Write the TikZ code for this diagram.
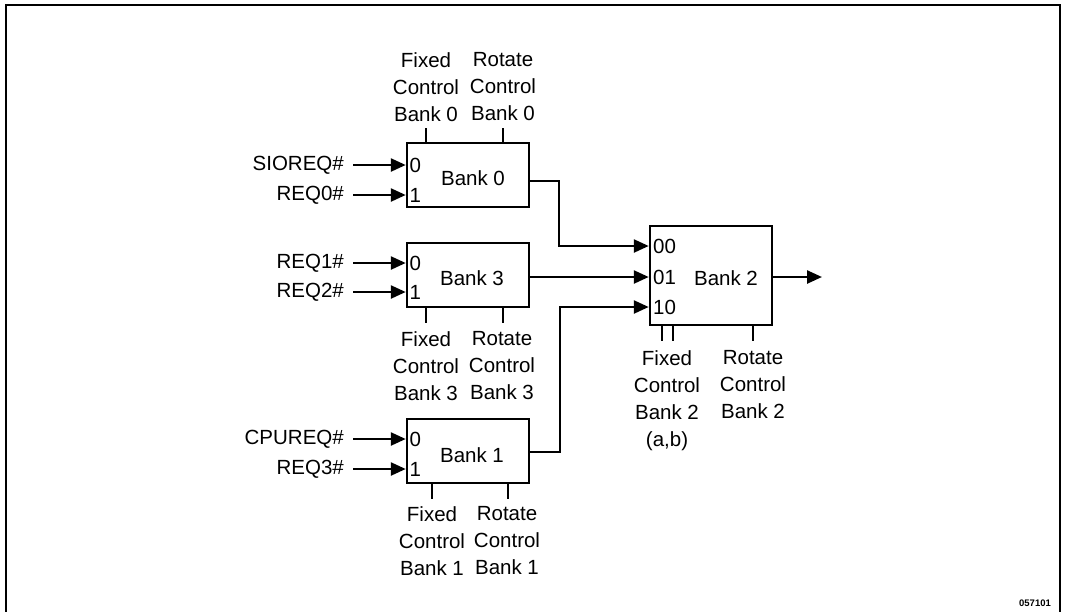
\documentclass[tikz,border=0pt]{standalone}
\usepackage{fontspec}
\setmainfont{Liberation Sans}
\usetikzlibrary{arrows.meta}
\begin{document}
\begin{tikzpicture}[x=1pt,y=-1pt,
  every node/.style={inner sep=0pt, font=\fontsize{20.5}{27}\selectfont},
  bankbox/.style={draw, line width=2.5pt, minimum width=122pt, minimum height=64pt},
  wire/.style={line width=2.5pt},
  arr/.style={line width=2.5pt, -{Triangle[length=15pt,width=13pt]}},
  ctl/.style={anchor=north, align=center},
  lbl/.style={anchor=east},
  port/.style={anchor=west}]
\useasboundingbox (0,0) rectangle (1066,611);
% frame
\draw[line width=2.5pt] (6,612) -- (6,5) -- (1060,5) -- (1060,612);
\node[font=\bfseries\fontsize{9.5}{10}\selectfont] (fig) at (1035,603) {057101};

% banks
\node[bankbox] (b0) at (468,175) {};
\node[bankbox] (b3) at (468,275) {};
\node[bankbox] (b1) at (468,451) {};
\node[bankbox, minimum height=99pt] (b2) at (711,275.5) {};

\node (t0) at (473,178) {Bank 0};
\node (t3) at (472,278) {Bank 3};
\node (t1) at (472,455) {Bank 1};
\node (t2) at (726,278) {Bank 2};

% port labels
\node[port] (p00) at (409.5,165) {0};
\node[port] (p01) at (409.5,195) {1};
\node[port] (p30) at (409.5,263) {0};
\node[port] (p31) at (409.5,292) {1};
\node[port] (p10) at (409.5,439) {0};
\node[port] (p11) at (409.5,469) {1};
\node[port] (q00) at (653,246) {00};
\node[port] (q01) at (653,277) {01};
\node[port] (q10) at (653,307) {10};

% input labels
\node[lbl] (sio) at (344,165) {SIOREQ\#};
\node[lbl] (r0) at (344,195) {REQ0\#};
\node[lbl] (r1) at (344,263) {REQ1\#};
\node[lbl] (r2) at (344,292) {REQ2\#};
\node[lbl] (cpu) at (344,439) {CPUREQ\#};
\node[lbl] (r3) at (344,469) {REQ3\#};

\draw[arr] ([xshift=9pt]sio.east) -- (b0.west |- sio);
\draw[arr] ([xshift=9pt]r0.east) -- (b0.west |- r0);
\draw[arr] ([xshift=9pt]r1.east) -- (b3.west |- r1);
\draw[arr] ([xshift=9pt]r2.east) -- (b3.west |- r2);
\draw[arr] ([xshift=9pt]cpu.east) -- (b1.west |- cpu);
\draw[arr] ([xshift=9pt]r3.east) -- (b1.west |- r3);

% bank outputs
\coordinate (o0) at (529,181);
\coordinate (o1) at (529,452);
\coordinate (out) at (822,277);
\draw[arr] (o0) -- (559,181) -- (559,246) -- (b2.west |- q00);
\draw[arr] (b3.east |- q01) -- (b2.west |- q01);
\draw[arr] (o1) -- (560,452) -- (560,307) -- (b2.west |- q10);
\draw[arr] (b2.east |- out) -- (out);

% control ticks
\draw[wire] (426,128) -- (426,143);
\draw[wire] (503,128) -- (503,143);
\draw[wire] (426,307) -- (426,323);
\draw[wire] (503,307) -- (503,323);
\draw[wire] (432,483) -- (432,499);
\draw[wire] (508,483) -- (508,499);
\draw[wire] (662,325) -- (662,341);
\draw[wire] (673,325) -- (673,341);
\draw[wire] (753,325) -- (753,341);

% control labels
\node[ctl] (f0) at (426,52) {Fixed\\Control\\Bank 0};
\node[ctl] (c0) at (503,52) {Rotate\\Control\\Bank 0};
\node[ctl] (f3) at (426,331) {Fixed\\Control\\Bank 3};
\node[ctl] (c3) at (502,331) {Rotate\\Control\\Bank 3};
\node[ctl] (f1) at (432,506) {Fixed\\Control\\Bank 1};
\node[ctl] (c1) at (507,506) {Rotate\\Control\\Bank 1};
\node[ctl] (f2) at (667,350) {Fixed\\Control\\Bank 2\\(a,b)};
\node[ctl] (c2) at (753,350) {Rotate\\Control\\Bank 2};
\end{tikzpicture}
\end{document}
